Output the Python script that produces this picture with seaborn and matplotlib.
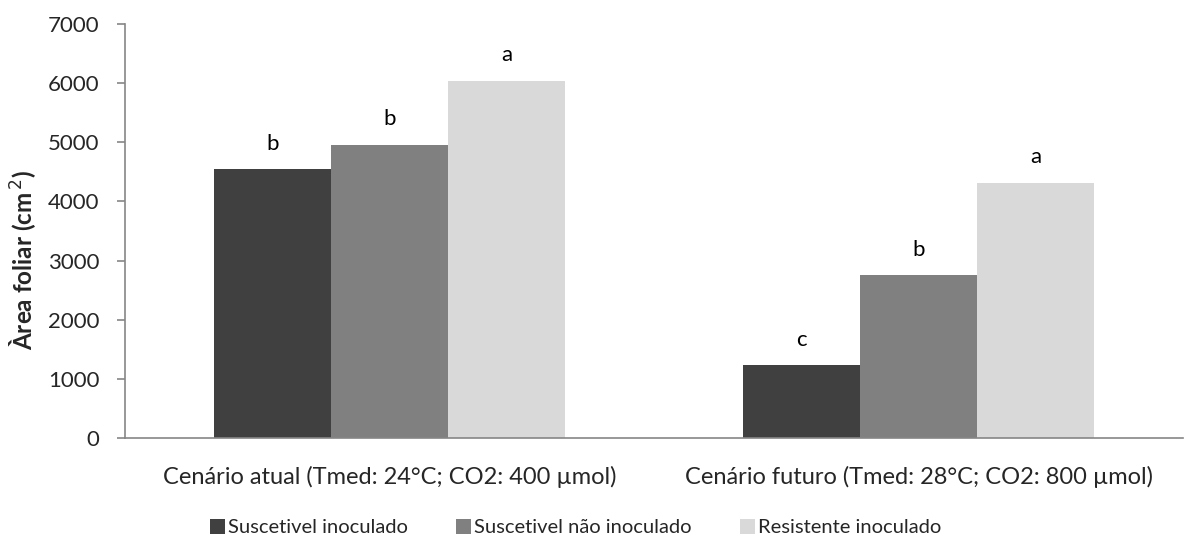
import matplotlib
matplotlib.use("Agg")
import matplotlib.pyplot as plt
import seaborn as sns
import pandas as pd
from matplotlib.patches import Patch

categories = ["Cenário atual (Tmed: 24°C; CO2: 400 µmol)",
              "Cenário futuro (Tmed: 28°C; CO2: 800 µmol)"]
series = ["Suscetivel inoculado", "Suscetivel não inoculado", "Resistente inoculado"]
suscetivel_inoculado = [4550, 1230]
suscetivel_nao_inoculado = [4960, 2750]
resistente_inoculado = [6040, 4320]
letters = {
    "Suscetivel inoculado": ["b", "c"],
    "Suscetivel não inoculado": ["b", "b"],
    "Resistente inoculado": ["a", "a"],
}
colors = ["#404040", "#808080", "#d9d9d9"]
yticks = [0, 1000, 2000, 3000, 4000, 5000, 6000, 7000]

values = [suscetivel_inoculado, suscetivel_nao_inoculado, resistente_inoculado]
rows = []
for s, vals in zip(series, values):
    for c, v in zip(categories, vals):
        rows.append({"cat": c, "serie": s, "val": v})
df = pd.DataFrame(rows)

sns.set_style("white")
plt.rcParams["font.family"] = ["Lato", "DejaVu Sans"]

fig = plt.figure(figsize=(11.87, 5.43), dpi=100)
ax = fig.add_axes([0.105, 0.193, 0.892, 0.763])

sns.barplot(data=df, x="cat", y="val", hue="serie", order=categories,
            hue_order=series, palette=colors, width=0.663, saturation=1,
            linewidth=0, ax=ax, legend=False)

# letters above bars
for cont, s in zip(ax.containers, series):
    for bar, lab in zip(cont, letters[s]):
        ax.annotate(lab, (bar.get_x() + bar.get_width() / 2, bar.get_height()),
                    xytext=(0, 11), textcoords="offset points",
                    ha="center", va="bottom", fontsize=16, color="#000000")

ax.set_xlim(-0.5, 1.5)
ax.set_ylim(0, 7000)
ax.set_yticks(yticks)
ax.set_yticklabels([str(t) for t in yticks], fontsize=16)
ax.set_xticks([0, 1])
ax.set_xticklabels(categories, fontsize=17)
ax.set_xticks([-0.5, 0.5, 1.5], minor=True)
ax.tick_params(axis="x", which="major", length=0, pad=20)
ax.tick_params(axis="x", which="minor", length=6, color="#868686", width=1.2)
ax.tick_params(axis="y", length=6, color="#868686", width=1.2, direction="out", left=True, pad=12)
ax.set_xlabel("")
ax.set_ylabel("Àrea foliar (cm$^{\\,2}$)", fontsize=17.5, fontweight="bold", labelpad=6)
ax.yaxis.set_label_coords(-0.082, 0.43)

for side in ["top", "right"]:
    ax.spines[side].set_visible(False)
for side in ["left", "bottom"]:
    ax.spines[side].set_color("#868686")
    ax.spines[side].set_linewidth(1.2)

handles = [Patch(facecolor=c, edgecolor="none") for c in colors]
fig.legend(handles, series, loc="center", bbox_to_anchor=(0.485, 0.028), ncol=3,
           frameon=False, fontsize=14.5, handlelength=0.75, handleheight=0.75,
           handletextpad=0.15, columnspacing=2.4)

fig.savefig("out.png", dpi=100)
